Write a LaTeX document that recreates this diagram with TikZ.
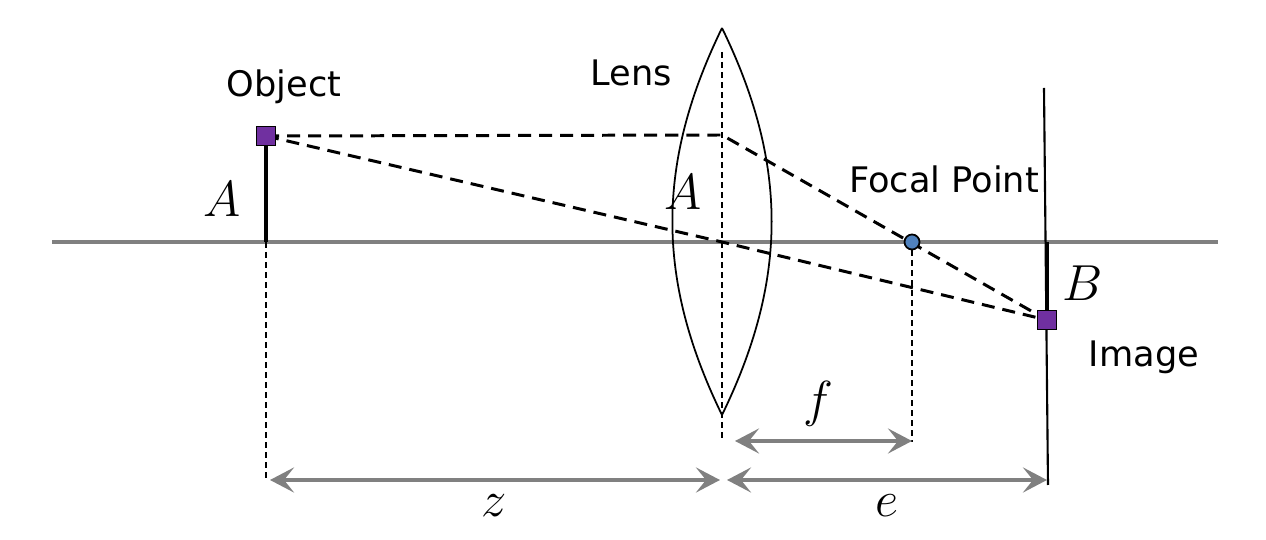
\documentclass[tikz,border=0pt]{standalone}
\usepackage{fontspec}
\setmainfont{Liberation Serif}
\newfontfamily\tagfont{DejaVu Sans}
\usetikzlibrary{arrows.meta}
\definecolor{objpurple}{HTML}{7030A0}
\definecolor{focblue}{HTML}{4F81BD}
\definecolor{axisgray}{HTML}{808080}
\tikzset{
  ray/.style={line width=0.85pt, dash pattern=on 0.13cm off 0.08cm},
  guide/.style={line width=0.45pt, dash pattern=on 0.06cm off 0.04cm},
  measure/.style={axisgray, line width=1.4pt,
    {Stealth[length=0.24cm, width=0.25cm, inset=0.1cm]}-{Stealth[length=0.24cm, width=0.25cm, inset=0.1cm]}},
  marker/.style={draw, line width=0.5pt, fill=objpurple, minimum size=0.19cm, inner sep=0pt},
  tag/.style={font=\tagfont\fontsize{10}{12}\selectfont},
  sym/.style={font=\fontsize{14}{16}\selectfont}
}
\begin{document}
\begin{tikzpicture}[x=0.01cm, y=-0.01cm]
    \useasboundingbox (0,0) rectangle (1266,540);
    % axis and points
    \coordinate (axl) at (52,242);
    \coordinate (axr) at (1218,242);
    \coordinate (objbase) at (266,242);
    \coordinate (objtop) at (266,136);
    \coordinate (lenstop) at (722,28);
    \coordinate (lensbot) at (722,415);
    \coordinate (lenshit) at (722,135);
    \coordinate (lensc) at (722,242);
    \coordinate (imgbase) at (1047,242);
    \coordinate (imgtop) at (1047,320);
    \coordinate (plnt) at (1044,88);
    \coordinate (plnb) at (1048,485);
    \draw[axisgray, line width=1.4pt] (axl) -- (axr);
    % lens
    \draw[line width=0.5pt] (lenstop) to[bend right=26] (lensbot)
        to[bend right=26] (lenstop);
    % guides
    \draw[guide] (722,52) -- (722,442);
    \draw[guide] (objbase) -- (266,480);
    \draw[guide] (912,250) -- (912,442);
    % image plane
    \draw[line width=0.6pt] (plnt) -- (plnb);
    % object and image
    \draw[line width=1.3pt] (objbase) -- (objtop);
    \draw[line width=1.3pt] (imgbase) -- (imgtop);
    % rays
    \draw[ray] (objtop) -- (lenshit) -- (imgtop);
    \draw[ray] (objtop) -- (lensc) -- (imgtop);
    \node[marker] (obj) at (objtop) {};
    \node[marker] (img) at (imgtop) {};
    \node[draw, circle, line width=0.5pt, fill=focblue, minimum size=0.15cm, inner sep=0pt] (foc) at (912,242) {};
    % dimensions
    \draw[measure] (270,480) -- (720,480);
    \draw[measure] (727,480) -- (1047,480);
    \draw[measure] (735,441) -- (912,441);
    % labels
    \node[tag] (objlbl) at (284,87) {Object};
    \node[tag] (lenslbl) at (631,73) {Lens};
    \node[tag] (foclbl) at (944,179) {Focal Point};
    \node[tag] (imglbl) at (1144,357) {Image};
    \node[sym] (hobj) at (222,199) {$A$};
    \node[sym] (hlens) at (683,192) {$A$};
    \node[sym] (himg) at (1083,283) {$B$};
    \node[sym] (flbl) at (818,404) {$f$};
    \node[sym] (zlbl) at (494,506) {$z$};
    \node[sym] (elbl) at (887,506) {$e$};
\end{tikzpicture}
\end{document}
